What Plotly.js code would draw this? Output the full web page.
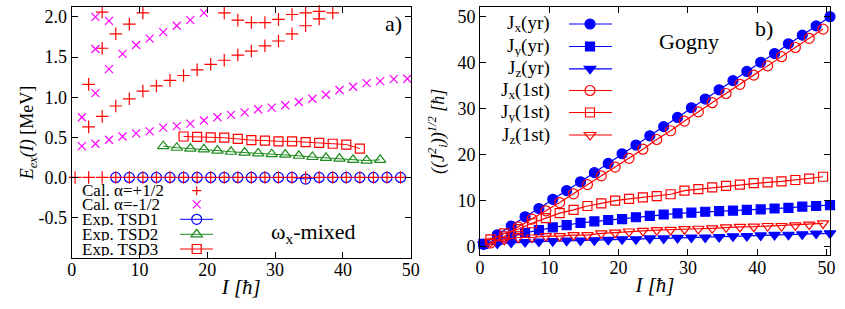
<!DOCTYPE html>
<html><head><meta charset="utf-8">
<script src="https://cdn.plot.ly/plotly-3.0.1.min.js"></script>
<style>html,body{margin:0;padding:0;background:#fff}#chart{width:845px;height:309px}</style>
</head><body><div id="chart"></div>
<script>
// ================= panel a) : excitation energies =================
// Cal. alpha=+1/2 (red +)
const calPlusYrastI = [0.5,2.5,4.5,6.5,8.5,10.5,12.5,14.5,16.5,18.5,20.5,22.5,24.5,26.5,28.5,30.5,32.5,34.5,36.5,38.5,40.5,42.5,44.5,46.5,48.5];
const calPlusYrastE = [0,0,0,0,0,0,0,0,0,0,0,0,0,0,0,0,0,0,0,0,0,0,0,0,0];
const calPlusBand2I = [2.5,4.5,6.5,8.5,10.5,12.5,14.5,16.5,18.5,20.5,22.5,24.5,26.5,28.5,30.5,32.5,34.5,36.5,38.5];
const calPlusBand2E = [0.63,0.76,0.89,0.98,1.075,1.14,1.21,1.27,1.34,1.41,1.46,1.525,1.575,1.64,1.70,1.79,1.89,1.975,2.05];
const calPlusBand3I = [2.5,4.5,6.5,8.5,10.5,22.5,24.5,26.5,28.5,30.5,32.5,34.5,36.5,4.5];
const calPlusBand3E = [1.16,1.61,1.79,1.91,2.05,2.05,1.96,1.93,1.93,1.97,2.03,2.05,2.07,2.06];
// Cal. alpha=-1/2 (magenta x)
const calMinusBand1I = [1.5,3.5,5.5,7.5,9.5,11.5,13.5,15.5,17.5,19.5,21.5,23.5,25.5,27.5,29.5,31.5,33.5,35.5,37.5,39.5,41.5,43.5,45.5,47.5,49.5];
const calMinusBand1E = [0.39,0.42,0.47,0.51,0.55,0.575,0.62,0.64,0.67,0.71,0.75,0.78,0.81,0.85,0.87,0.90,0.94,0.98,1.03,1.09,1.13,1.175,1.20,1.225,1.23];
const calMinusBand2I = [1.5,3.5,5.5,7.5,9.5,11.5,13.5,15.5,17.5,19.5,3.5,3.5,5.5];
const calMinusBand2E = [0.75,1.05,1.35,1.54,1.65,1.73,1.81,1.89,1.96,2.05,1.60,2.00,1.95];
// Experimental bands
const tsd1I = [6.5,8.5,10.5,12.5,14.5,16.5,18.5,20.5,22.5,24.5,26.5,28.5,30.5,32.5,34.5,36.5,38.5,40.5,42.5,44.5,46.5,48.5];
const tsd1E = [0,0,0,0,0,0,0,0,0,0,0,0,0,0,-0.02,0,0,0,0,0,0,0];
const tsd2I = [13.5,15.5,17.5,19.5,21.5,23.5,25.5,27.5,29.5,31.5,33.5,35.5,37.5,39.5,41.5,43.5,45.5];
const tsd2E = [0.39,0.37,0.36,0.35,0.335,0.32,0.31,0.30,0.29,0.285,0.27,0.255,0.245,0.235,0.22,0.21,0.22];
const tsd3I = [16.5,18.5,20.5,22.5,24.5,26.5,28.5,30.5,32.5,34.5,36.5,38.5,40.5,42.5];
const tsd3E = [0.51,0.505,0.50,0.495,0.48,0.465,0.46,0.45,0.45,0.44,0.43,0.42,0.41,0.36];
const yTickValsA = [-0.5,0,0.5,1,1.5,2];
const yTickTextA = ['-0.5','0.0','0.5','1.0','1.5','2.0'];

// ================= panel b) : angular momentum components =================
const iYrast = [0.5,2.5,4.5,6.5,8.5,10.5,12.5,14.5,16.5,18.5,20.5,22.5,24.5,26.5,28.5,30.5,32.5,34.5,36.5,38.5,40.5,42.5,44.5,46.5,48.5,50.5];
const jxYrast = [0.5,2.6,4.5,6.5,8.3,10.3,12.2,14.1,16.1,18.1,20.2,22.1,24.1,26.1,28.1,30.2,32.1,34.1,36.1,38.1,40.1,42.0,44.1,46.0,48.0,50.0];
const jyYrast = [0.6,1.4,2.2,3.0,3.6,4.2,4.7,5.2,5.5,5.8,6.0,6.4,6.7,7.0,7.25,7.4,7.6,7.75,7.85,8.0,8.1,8.3,8.45,8.7,8.85,9.05];
const jzYrast = [0.5,0.7,0.9,1.0,1.1,1.2,1.3,1.35,1.4,1.5,1.6,1.6,1.8,1.8,1.9,2.0,2.0,2.1,2.25,2.3,2.45,2.55,2.6,2.7,2.85,2.9];
const i1st = [1.5,3.5,5.5,7.5,9.5,11.5,13.5,15.5,17.5,19.5,21.5,23.5,25.5,27.5,29.5,31.5,33.5,35.5,37.5,39.5,41.5,43.5,45.5,47.5,49.5];
const jx1st = [0.8,2.2,4.3,6.0,7.8,9.6,11.5,13.5,15.4,17.3,19.2,21.2,23.3,25.2,27.3,29.3,31.3,33.3,35.3,37.3,39.3,41.3,43.3,45.3,47.3];
const jy1st = [1.6,2.9,3.8,5.1,6.2,7.3,8.0,8.85,9.4,10.0,10.4,10.7,11.0,11.4,12.2,12.5,12.9,13.2,13.5,13.8,14.0,14.2,14.5,14.8,15.2];
const jz1st = [1.0,1.5,2.0,2.0,2.3,2.3,2.5,2.5,2.9,3.05,3.3,3.45,3.6,3.65,3.8,3.9,4.0,4.2,4.3,4.35,4.5,4.5,4.65,4.8,5.05];
const xTickVals = [0,10,20,30,40,50];
const yTickValsB = [0,10,20,30,40,50];

// legend labels
const legendA = ['Cal. α=+1/2','Cal. α=-1/2','Exp. TSD1','Exp. TSD2','Exp. TSD3'];
const legendB = ['J<sub>x</sub>(yr)','J<sub>y</sub>(yr)','J<sub>z</sub>(yr)','J<sub>x</sub>(1st)','J<sub>y</sub>(1st)','J<sub>z</sub>(1st)'];

// ---------------- styling ----------------
const RED='#ff0000', MAG='#ff00ff', BLUE='#0000ff', GREEN='#1e8c1e';
const FONT='Liberation Serif, Times New Roman, serif';
const W=845, H=309;
const px = v => v/W, py = v => 1 - v/H;

const traces = [];
function addLine(xa, ya, I, J, color, symbol, size, name, lw){
  traces.push({type:'scatter', mode:'lines+markers', x:I, y:J, xaxis:xa, yaxis:ya, name:name,
    line:{color:color, width:lw},
    marker:{symbol:symbol, size:size, color:color, line:{color:color, width:1.2}},
    cliponaxis:false, showlegend:false});
}
function addPts(xa, ya, I, J, color, symbol, size, name){
  traces.push({type:'scatter', mode:'markers', x:I, y:J, xaxis:xa, yaxis:ya, name:name,
    marker:{symbol:symbol, size:size, color:color, line:{color:color, width:1.2}},
    cliponaxis:false, showlegend:false});
}
// panel a
addLine('x','y', tsd1I, tsd1E, BLUE, 'circle-open', 10, legendA[2], 1);
addLine('x','y', tsd2I, tsd2E, GREEN, 'triangle-up-open', 10, legendA[3], 1);
addLine('x','y', tsd3I, tsd3E, RED, 'square-open', 9, legendA[4], 1);
addPts('x','y', calPlusYrastI.concat(calPlusBand2I, calPlusBand3I), calPlusYrastE.concat(calPlusBand2E, calPlusBand3E), RED, 'cross-thin-open', 9, legendA[0]);
addPts('x','y', calMinusBand1I.concat(calMinusBand2I), calMinusBand1E.concat(calMinusBand2E), MAG, 'x-thin-open', 8, legendA[1]);
// panel b
addLine('x2','y2', iYrast, jxYrast, BLUE, 'circle', 10, 'Jx(yr)', 1.2);
addLine('x2','y2', iYrast, jyYrast, BLUE, 'square', 9, 'Jy(yr)', 1.2);
addLine('x2','y2', iYrast, jzYrast, BLUE, 'triangle-down', 10, 'Jz(yr)', 1.2);
addLine('x2','y2', i1st, jx1st, RED, 'circle-open', 10, 'Jx(1st)', 1.2);
addLine('x2','y2', i1st, jy1st, RED, 'square-open', 9, 'Jy(1st)', 1.2);
addLine('x2','y2', i1st, jz1st, RED, 'triangle-down-open', 10, 'Jz(1st)', 1.2);

// ---------------- manual gnuplot-style keys ----------------
const shapes = [], annotations = [];
function keyMarker(kind, cx, cy, color, filled){
  const base = {xref:'paper', yref:'paper', xsizemode:'pixel', ysizemode:'pixel',
    xanchor:px(cx), yanchor:py(cy), line:{color:color, width:1.2},
    fillcolor: filled ? color : 'rgba(0,0,0,0)'};
  if(kind==='circle') shapes.push(Object.assign({type:'circle', x0:-5, x1:5, y0:-5, y1:5}, base));
  else if(kind==='square') shapes.push(Object.assign({type:'rect', x0:-4.5, x1:4.5, y0:-4.5, y1:4.5}, base));
  else if(kind==='tri-up') shapes.push(Object.assign({type:'path', path:'M-5.8,-2.5L5.8,-2.5L0,5Z'}, base));
  else if(kind==='tri-down') shapes.push(Object.assign({type:'path', path:'M-5.8,2.5L5.8,2.5L0,-5Z'}, base));
  else if(kind==='plus') shapes.push(Object.assign({type:'path', path:'M-4.5,0L4.5,0M0,-4.5L0,4.5'}, base));
  else if(kind==='x') shapes.push(Object.assign({type:'path', path:'M-4,-4L4,4M-4,4L4,-4'}, base));
}
function keyLine(x0, x1, y, color, w){
  shapes.push({type:'line', xref:'paper', yref:'paper', x0:px(x0), x1:px(x1), y0:py(y), y1:py(y), line:{color:color, width:w}});
}
function keyText(text, x, y, anchor, size, h){
  const a = {xref:'paper', yref:'paper', x:px(x), y:py(y), xanchor:anchor, yanchor:'middle',
    text:text, showarrow:false, borderpad:0, font:{family:FONT, size:size, color:'#000'}};
  if(h) a.height = h;
  annotations.push(a);
}
// panel a key
const rowsA = [190.7, 204.3, 219.3, 234.3, 249];
const keyA = [[RED,'plus',false,false],[MAG,'x',false,false],[BLUE,'circle',true,false],[GREEN,'tri-up',true,false],[RED,'square',true,false]];
rowsA.forEach((y,i)=>{
  keyText(legendA[i], 81, y, 'left', 17, 13);
  if(keyA[i][2]) keyLine(180, 213, y, keyA[i][0], 1);
  keyMarker(keyA[i][1], 196.7, y, keyA[i][0], keyA[i][3]);
});
// panel b key
const rowsB = [24, 46.5, 68.8, 90.5, 112.5, 135];
const keyB = [[BLUE,'circle',true],[BLUE,'square',true],[BLUE,'tri-down',true],[RED,'circle',false],[RED,'square',false],[RED,'tri-down',false]];
rowsB.forEach((y,i)=>{
  keyText(legendB[i], 551, y, 'right', 19, 21);
  keyLine(569, 612, y, keyB[i][0], 1.2);
  keyMarker(keyB[i][1], 590, y, keyB[i][0], keyB[i][2]);
});
// panel labels
keyText('a)', 393, 23, 'center', 22);
keyText('b)', 764, 28, 'center', 22);
keyText('Gogny', 689, 42, 'center', 22);
keyText('ω<sub>x</sub>-mixed', 313, 233, 'center', 22);

const axBase = {showline:true, linecolor:'#000', linewidth:1, mirror:'ticks', ticks:'inside', ticklen:6,
  tickcolor:'#000', tickwidth:1, showgrid:false, zeroline:false, tickfont:{family:FONT, size:18, color:'#000'}};

const layout = {
  width:W, height:H, margin:{l:0, r:0, t:0, b:0}, paper_bgcolor:'#fff', plot_bgcolor:'#fff',
  font:{family:FONT, color:'#000'}, showlegend:false,
  xaxis:Object.assign({}, axBase, {domain:[px(71.7), px(410.7)], range:[0,50], anchor:'y', tickvals:xTickVals,
    ticklabelstandoff:-4, title:{text:'<i>I [ħ]</i>', font:{family:FONT, size:21}, standoff:0}}),
  yaxis:Object.assign({}, axBase, {domain:[py(257.7), py(7.3)], range:[-1.0,2.12], anchor:'x', tickvals:yTickValsA, ticktext:yTickTextA,
    title:{text:'<i>E<sub>ex</sub>(I)</i> [MeV]', font:{family:FONT, size:18}, standoff:0}}),
  xaxis2:Object.assign({}, axBase, {domain:[px(480), px(830)], range:[0,50.5], anchor:'y2', tickvals:xTickVals,
    ticklabelstandoff:-4, title:{text:'<i>I [ħ]</i>', font:{family:FONT, size:21}, standoff:0}}),
  yaxis2:Object.assign({}, axBase, {domain:[py(255.3), py(7.3)], range:[-1.87,52.04], anchor:'x2', tickvals:yTickValsB,
    title:{text:'<i>((J<sup>2</sup><sub>i</sub>))<sup>1/2</sup> [ħ]</i>', font:{family:FONT, size:18}, standoff:8}}),
  shapes:shapes, annotations:annotations
};
Plotly.newPlot('chart', traces, layout, {staticPlot:true, displayModeBar:false});
</script></body></html>
